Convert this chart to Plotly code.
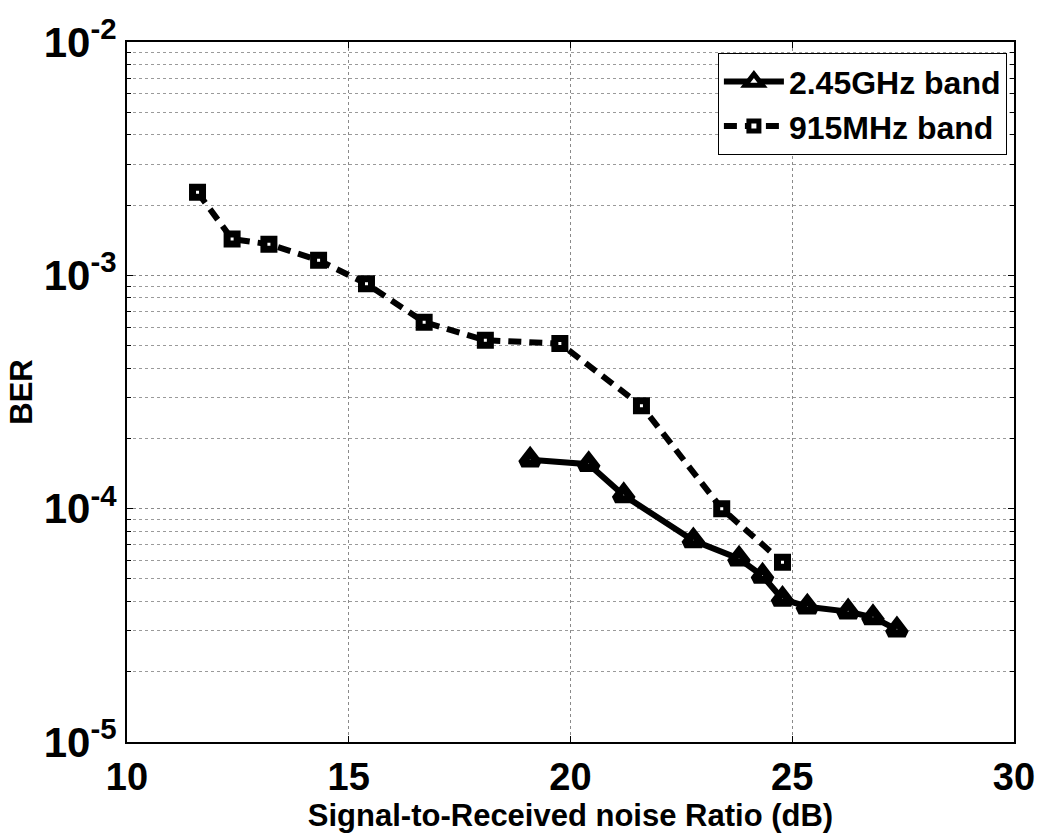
import plotly.graph_objects as go

# 2.45GHz band (triangles, solid)
snr_245 = [19.09, 20.41, 21.2, 22.77, 23.8, 24.33, 24.78, 25.34, 26.26, 26.82, 27.36]
ber_245 = [1.62e-4, 1.55e-4, 1.14e-4, 7.3e-5, 6.1e-5, 5.15e-5, 4.1e-5, 3.8e-5, 3.62e-5, 3.42e-5, 3.03e-5]

# 915MHz band (squares, dashed)
snr_915 = [11.59, 12.37, 13.2, 14.32, 15.4, 16.7, 18.08, 19.76, 21.6, 23.41, 24.78]
ber_915 = [2.27e-3, 1.43e-3, 1.36e-3, 1.16e-3, 9.2e-4, 6.3e-4, 5.27e-4, 5.1e-4, 2.76e-4, 1.0e-4, 5.9e-5]

x_ticks = [10, 15, 20, 25, 30]
y_ticks = [1e-5, 1e-4, 1e-3, 1e-2]
y_ticktext = ["10<sup>-5</sup>", "10<sup>-4</sup>", "10<sup>-3</sup>", "10<sup>-2</sup>"]

FONT = "Liberation Sans, Arial, sans-serif"

fig = go.Figure()
fig.add_trace(go.Scatter(
    x=snr_245, y=ber_245, mode="lines+markers", name="2.45GHz band",
    line=dict(color="black", width=6),
    marker=dict(symbol="triangle-up", size=15, color="white",
                line=dict(color="black", width=8)),
))
fig.add_trace(go.Scatter(
    x=snr_915, y=ber_915, mode="lines+markers", name="915MHz band",
    line=dict(color="black", width=6, dash="13px,8px"),
    marker=dict(symbol="square", size=10, color="white",
                line=dict(color="black", width=7)),
))

fig.update_layout(
    width=1047, height=833,
    margin=dict(l=127, r=27, t=42, b=87),
    paper_bgcolor="white", plot_bgcolor="white",
    font=dict(family=FONT, color="black", size=32, weight="bold"),
    legend=dict(
        x=0.992, y=0.984, xanchor="right", yanchor="top",
        bgcolor="white", bordercolor="black", borderwidth=1,
        font=dict(size=32, family=FONT, weight="bold"),
        tracegroupgap=0, itemwidth=60,
    ),
    showlegend=True,
)

fig.update_xaxes(
    range=[10, 30], tickvals=x_ticks,
    tickfont=dict(size=38, family=FONT, weight="bold"),
    showline=True, linecolor="black", linewidth=2, mirror="ticks",
    ticks="inside", ticklen=6, tickcolor="black", tickwidth=1,
    showgrid=True, gridcolor="#8a8a8a", griddash="dot", gridwidth=1,
    zeroline=False,
    title=dict(text="Signal-to-Received noise Ratio (dB)",
               font=dict(size=31, family=FONT, weight="bold"), standoff=2),
)
fig.update_yaxes(
    type="log", range=[-5, -2], tickvals=y_ticks, ticktext=y_ticktext,
    tickfont=dict(size=42, family=FONT, weight="bold"),
    showline=True, linecolor="black", linewidth=2, mirror="ticks",
    ticks="inside", ticklen=6, tickcolor="black", tickwidth=1,
    showgrid=True, gridcolor="#8a8a8a", griddash="dot", gridwidth=1,
    minor=dict(dtick="D1", showgrid=True, gridcolor="#9a9a9a", griddash="dot",
               gridwidth=1, ticks="inside", ticklen=4, tickcolor="black"),
    zeroline=False,
    title=dict(text="BER", font=dict(size=31, family=FONT, weight="bold"), standoff=2),
)

fig.write_html("out.html")
